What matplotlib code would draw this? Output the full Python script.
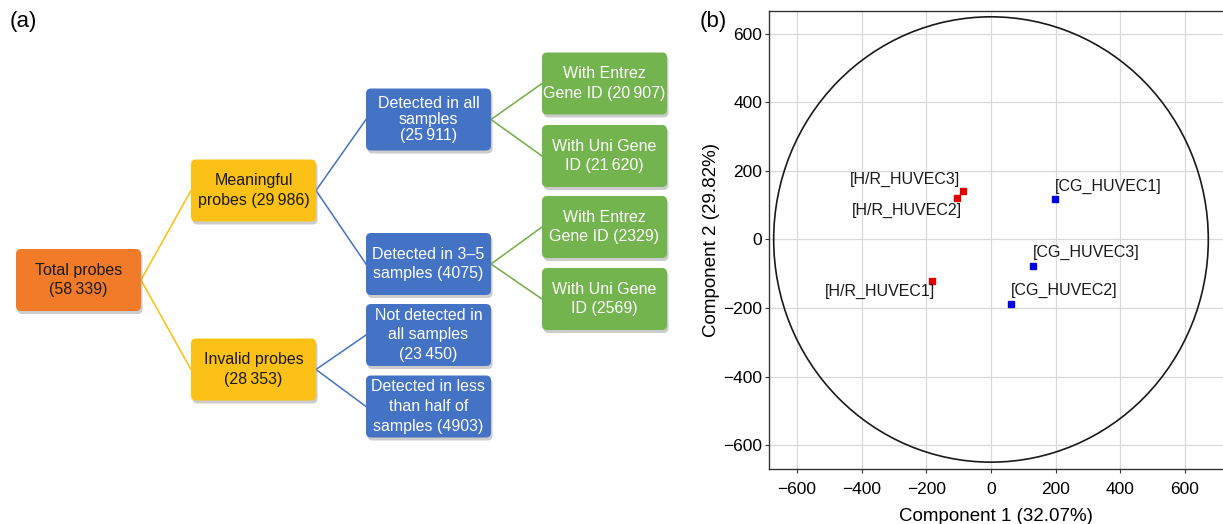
import numpy as np
import matplotlib.pyplot as plt
from matplotlib.patches import FancyBboxPatch, Ellipse

plt.rcParams['font.family'] = ['Liberation Sans', 'DejaVu Sans']

# ---- data: flowchart (a)
node_text = [
    "Total probes\n(58\u2009339)",
    "Meaningful\nprobes (29\u2009986)",
    "Invalid probes\n(28\u2009353)",
    "Detected in all\nsamples\n(25\u2009911)",
    "Detected in 3\u20135\nsamples (4075)",
    "Not detected in\nall samples\n(23\u2009450)",
    "Detected in less\nthan half of\nsamples (4903)",
    "With Entrez\nGene ID (20\u2009907)",
    "With Uni Gene\nID (21\u2009620)",
    "With Entrez\nGene ID (2329)",
    "With Uni Gene\nID (2569)",
]
node_level = [0, 1, 1, 2, 2, 2, 2, 3, 3, 3, 3]
node_parent = [None, 0, 0, 1, 1, 2, 2, 3, 3, 4, 4]

# ---- data: PCA scores (b)
samples = ["[H/R_HUVEC1]", "[H/R_HUVEC2]", "[H/R_HUVEC3]",
           "[CG_HUVEC1]", "[CG_HUVEC2]", "[CG_HUVEC3]"]
comp1 = [-183, -105, -87, 198, 62, 130]
comp2 = [-120, 120, 143, 117, -187, -76]
group = ["H/R", "H/R", "H/R", "CG", "CG", "CG"]

# ---- styles / layout
level_fill = ["#F27B2A", "#FBC116", "#4472C4", "#74B44F"]
level_text = ["#1a1a1a", "#1a1a1a", "white", "white"]
level_line = ["#FFC000", "#FFC000", "#4472C4", "#70AD47"]
col_left = [16, 191, 366, 542]
node_cy = [280, 190.5, 369.5, 119.5, 264, 335, 406.5, 83.5, 156, 227, 299]
node_ls = [1.4, 1.4, 1.4, 1.05, 1.3, 1.4, 1.4, 1.4, 1.4, 1.4, 1.4]
box_w, box_h = 125, 62
group_color = {"H/R": "#E50000", "CG": "#0000E0"}
label_off = [(2, -8), (3.5, -8.5), (-2, 8), (0, 9.5), (0, 9.5), (0, 9.5)]
label_ha = ["right", "right", "right", "left", "left", "left"]

fig = plt.figure(figsize=(12.23, 5.24), dpi=100)

# flowchart panel in pixel units
ax0 = fig.add_axes([0, 0, 690 / 1223, 1])
ax0.set_xlim(0, 690)
ax0.set_ylim(524, 0)
ax0.axis("off")

for i, txt in enumerate(node_text):
    lv = node_level[i]
    x0 = col_left[lv]
    y0 = node_cy[i] - box_h / 2
    shadow = FancyBboxPatch((x0 + 1.5, y0 + 3), box_w, box_h,
                            boxstyle="round,pad=0,rounding_size=5",
                            fc="#9a9a9a", ec="none", alpha=0.5, zorder=1)
    box = FancyBboxPatch((x0, y0), box_w, box_h,
                         boxstyle="round,pad=0,rounding_size=5",
                         fc=level_fill[lv], ec="none", zorder=2)
    ax0.add_patch(shadow)
    ax0.add_patch(box)
    ax0.text(x0 + box_w / 2, node_cy[i], txt, ha="center", va="center",
             fontsize=11.5, color=level_text[lv], linespacing=node_ls[i],
             zorder=3)
    p = node_parent[i]
    if p is not None:
        px = col_left[node_level[p]] + box_w
        ax0.plot([px, x0], [node_cy[p], node_cy[i]], color=level_line[lv],
                 linewidth=1.1, zorder=0)

fig.text(10 / 1223, 1 - 21 / 524, "(a)", fontsize=16, va="center")
fig.text(700 / 1223, 1 - 21 / 524, "(b)", fontsize=16, va="center")

# PCA panel
ax = fig.add_axes([769 / 1223, 1 - 469 / 524, 1 - 769 / 1223, 458 / 524])
ax.set_xlim(-687, 718)
ax.set_ylim(-670, 667)
ax.set_xticks(np.arange(-600, 601, 200))
ax.set_yticks(np.arange(-600, 601, 200))
ax.grid(True, color="#d9d9d9", linewidth=0.9)
ax.set_axisbelow(True)
ax.spines["right"].set_visible(False)
for s in ["left", "bottom", "top"]:
    ax.spines[s].set_color("#333333")
    ax.spines[s].set_linewidth(1.0)
ax.tick_params(labelsize=12.5, color="#333333", length=3)
ax.tick_params(axis="x", pad=6)
ax.tick_params(axis="y", pad=2)

ax.add_patch(Ellipse((0, 0), 1345, 1300, fill=False, ec="#1a1a1a", lw=1.2))

for i, name in enumerate(samples):
    ax.plot(comp1[i], comp2[i], "s", color=group_color[group[i]],
            markersize=5, zorder=3)
    ax.annotate(name, (comp1[i], comp2[i]), xytext=label_off[i],
                textcoords="offset points", ha=label_ha[i], va="center",
                fontsize=11.5, color="#1a1a1a")

ax.set_xlabel("Component 1 (32.07%)", fontsize=13.5, labelpad=8)
ax.set_ylabel("Component 2 (29.82%)", fontsize=13.5, labelpad=2)

plt.savefig("out.png", dpi=100)
